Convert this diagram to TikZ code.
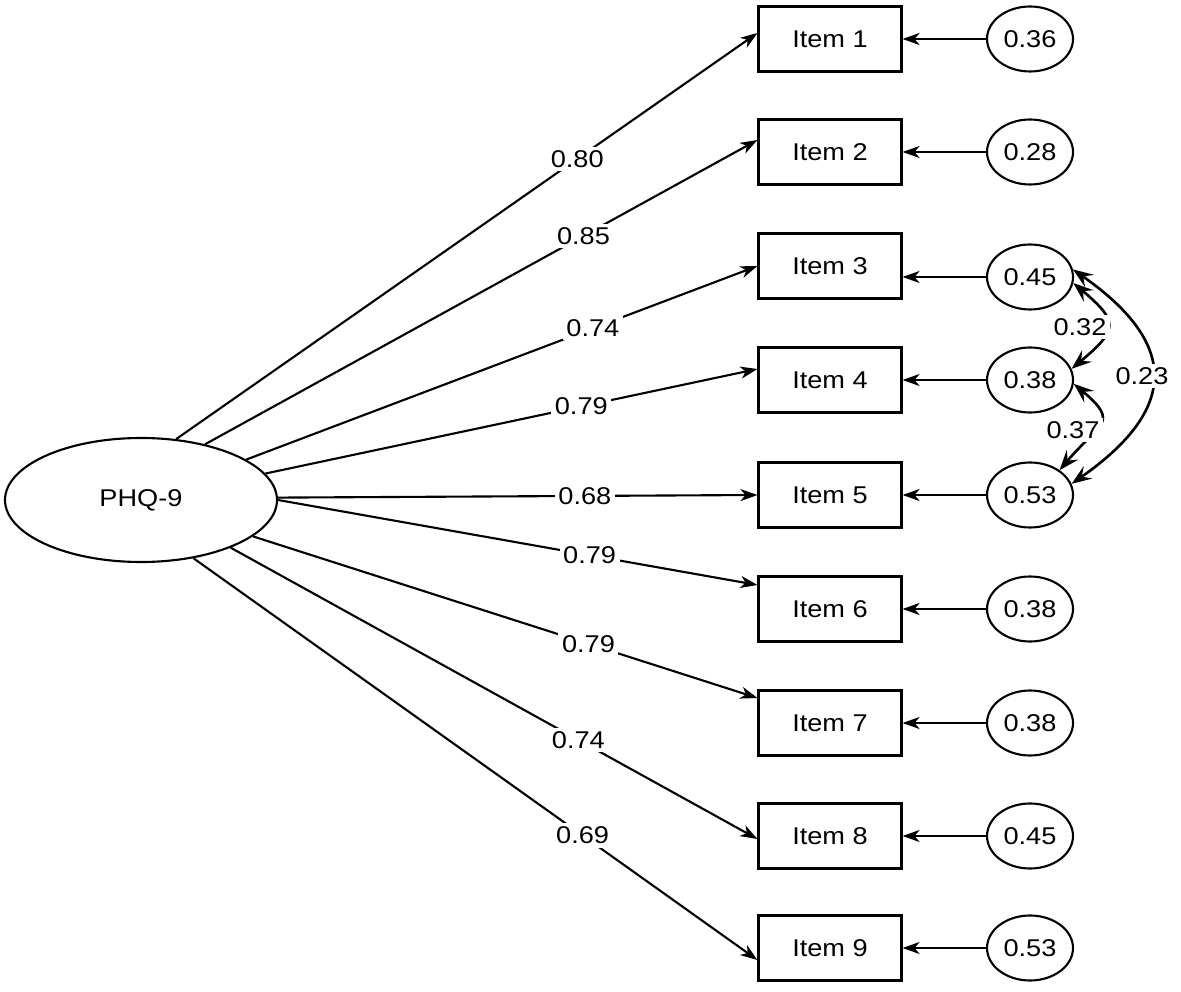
\documentclass[tikz,border=0pt]{standalone}
\usepackage{fontspec}
\setmainfont{Liberation Sans}[FakeStretch=1.12]
\usetikzlibrary{arrows.meta,shapes.geometric}

\begin{document}
\begin{tikzpicture}[x=0.2mm,y=-0.2mm,font=\fontsize{13.8}{16}\selectfont,
  item/.style={draw,line width=1.2pt,minimum width=28.6mm,minimum height=13mm,inner sep=0pt},
  err/.style={draw,ellipse,line width=1.2pt,minimum width=17.2mm,minimum height=13mm,inner sep=0pt},
  load/.style={line width=1.2pt,-{Stealth[length=3.4mm,width=2.4mm,inset=1mm]}},
  cov/.style={line width=1.5pt,{Stealth[length=4mm,width=3mm,inset=1.5mm]}-{Stealth[length=4mm,width=3mm,inset=1.5mm]}},
  lbl/.style={fill=white,inner sep=2pt}]
\useasboundingbox (0,0) rectangle (1181,992);

% latent factor
\node[draw,ellipse,line width=1.2pt,minimum width=54.4mm,minimum height=24.8mm,inner sep=0pt] (phq) at (141,500) {PHQ-9};

% observed items
\node[item] (i1) at (830,39) {Item 1};
\node[item] (i2) at (830,152) {Item 2};
\node[item] (i3) at (830,266) {Item 3};
\node[item] (i4) at (830,380) {Item 4};
\node[item] (i5) at (830,495) {Item 5};
\node[item] (i6) at (830,609) {Item 6};
\node[item] (i7) at (830,723) {Item 7};
\node[item] (i8) at (830,836) {Item 8};
\node[item] (i9) at (830,948) {Item 9};

% residual variances
\node[err] (e1) at (1030,39) {0.36};
\node[err] (e2) at (1030,152) {0.28};
\node[err] (e3) at (1030,277) {0.45};
\node[err] (e4) at (1030,380) {0.38};
\node[err] (e5) at (1030,495) {0.53};
\node[err] (e6) at (1030,609) {0.38};
\node[err] (e7) at (1030,723) {0.38};
\node[err] (e8) at (1030,836) {0.45};
\node[err] (e9) at (1030,948) {0.53};

% loadings
\draw[load] (phq.60.6) -- node[lbl,pos=0.69] (l1) {0.80} ([yshift=1.2mm]i1.west);
\draw[load] (phq.41.6) -- node[lbl,pos=0.685] (l2) {0.85} ([yshift=2.4mm]i2.west);
\draw[load] (phq.21) -- node[lbl,pos=0.678] (l3) {0.74} (i3.west);
\draw[load] (phq.12) -- node[lbl,pos=0.642] (l4) {0.79} ([yshift=2.2mm]i4.west);
\draw[load] (phq.1.7) -- node[lbl,pos=0.64] (l5) {0.68} (i5.west);
\draw[load] (phq.-0.8) -- node[lbl,pos=0.65] (l6) {0.79} ([yshift=4.8mm]i6.west);
\draw[load] (phq.-18) -- node[lbl,pos=0.665] (l7) {0.79} ([yshift=5mm]i7.west);
\draw[load] (phq.-28.5) -- node[lbl,pos=0.66] (l8) {0.74} ([yshift=-0.6mm]i8.west);
\draw[load] (phq.-48) -- node[lbl,pos=0.69] (l9) {0.69} ([yshift=-2.4mm]i9.west);

% residual arrows
\draw[load] (e1) -- (i1);
\draw[load] (e2) -- (i2);
\draw[load] (e3.west) -- (e3.west -| i3.east);
\draw[load] (e4) -- (i4);
\draw[load] (e5) -- (i5);
\draw[load] (e6) -- (i6);
\draw[load] (e7) -- (i7);
\draw[load] (e8) -- (i8);
\draw[load] (e9) -- (i9);

% residual covariances
\draw[cov] (e3.-8) to[out=-40,in=40,looseness=1.8] (e4.15);
\draw[cov] (e4.-5) to[out=-40,in=50,looseness=1.8] (e5.40);
\draw[cov] (e3.10) to[out=-35,in=35,looseness=1.55] (e5.15);
\node[lbl] (c34) at (1080,327) {0.32};
\node[lbl] (c45) at (1073,430) {0.37};
\node[lbl] (c35) at (1142,376) {0.23};
\end{tikzpicture}
\end{document}
